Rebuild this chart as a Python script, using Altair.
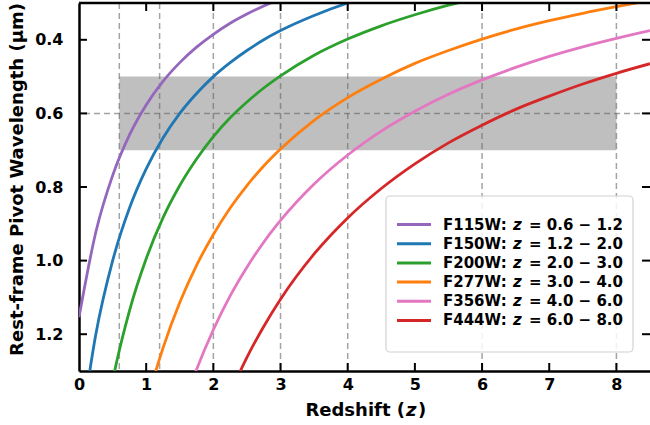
import altair as alt
import pandas as pd

# ---------------- data ----------------
filters = ["F115W", "F150W", "F200W", "F277W", "F356W", "F444W"]
z_ranges = ["= 0.6 − 1.2", "= 1.2 − 2.0", "= 2.0 − 3.0", "= 3.0 − 4.0", "= 4.0 − 6.0", "= 6.0 − 8.0"]
colors = ["#9467bd", "#1f77b4", "#2ca02c", "#ff7f0e", "#e377c2", "#d62728"]

z_f115w = [0, 0.25, 0.5, 0.75, 1.0, 1.25, 1.5, 1.75, 2.0, 2.25, 2.5, 2.75, 3.0]
lam_f115w = [1.154, 0.923, 0.769, 0.659, 0.577, 0.513, 0.462, 0.420, 0.385, 0.355, 0.330, 0.308, 0.289]

z_f150w = [0, 0.25, 0.5, 0.75, 1.0, 1.25, 1.5, 1.75, 2.0, 2.25, 2.5, 2.75, 3.0, 3.5, 4.0, 4.5]
lam_f150w = [1.501, 1.201, 1.001, 0.858, 0.751, 0.667, 0.600, 0.546, 0.500, 0.462, 0.429, 0.400, 0.375, 0.334, 0.300, 0.273]

z_f200w = [0.25, 0.5, 0.75, 1.0, 1.25, 1.5, 1.75, 2.0, 2.25, 2.5, 2.75, 3.0, 3.5, 4.0, 4.5, 5.0, 5.5, 6.0]
lam_f200w = [1.592, 1.327, 1.137, 0.995, 0.884, 0.796, 0.724, 0.663, 0.612, 0.569, 0.531, 0.498, 0.442, 0.398, 0.362, 0.332, 0.306, 0.284]

z_f277w = [0.75, 1.0, 1.25, 1.5, 1.75, 2.0, 2.25, 2.5, 2.75, 3.0, 3.5, 4.0, 4.5, 5.0, 5.5, 6.0, 6.5, 7.0, 7.5, 8.0, 8.5]
lam_f277w = [1.592, 1.393, 1.238, 1.114, 1.013, 0.929, 0.857, 0.796, 0.743, 0.697, 0.619, 0.557, 0.507, 0.464, 0.429, 0.398, 0.371, 0.348, 0.328, 0.310, 0.293]

z_f356w = [1.5, 1.75, 2.0, 2.25, 2.5, 2.75, 3.0, 3.5, 4.0, 4.5, 5.0, 5.5, 6.0, 6.5, 7.0, 7.5, 8.0, 8.5]
lam_f356w = [1.425, 1.296, 1.188, 1.096, 1.018, 0.950, 0.891, 0.792, 0.713, 0.648, 0.594, 0.548, 0.509, 0.475, 0.445, 0.419, 0.396, 0.375]

z_f444w = [2.25, 2.5, 2.75, 3.0, 3.5, 4.0, 4.5, 5.0, 5.5, 6.0, 6.5, 7.0, 7.5, 8.0, 8.5]
lam_f444w = [1.360, 1.263, 1.179, 1.105, 0.982, 0.884, 0.804, 0.737, 0.680, 0.632, 0.589, 0.553, 0.520, 0.491, 0.465]

z_marks = [0.6, 1.2, 2.0, 3.0, 4.0, 6.0, 8.0]     # vertical dashed lines
lam_mark = [0.6]                                  # horizontal dashed line
band_z = [0.6, 8.0]                               # shaded band extent
band_lam = [0.5, 0.7]

x_ticks = [0, 1, 2, 3, 4, 5, 6, 7, 8]
y_ticks = [0.4, 0.6, 0.8, 1.0, 1.2]

x_title_parts = ["Redshift (", "z", ")"]

# ---------------- tables ----------------
series = [
    (z_f115w, lam_f115w), (z_f150w, lam_f150w), (z_f200w, lam_f200w),
    (z_f277w, lam_f277w), (z_f356w, lam_f356w), (z_f444w, lam_f444w),
]
rows = []
for f, (zs, ls) in zip(filters, series):
    for z, l in zip(zs, ls):
        rows.append({"filter": f, "z": z, "lam": l})
curves_df = pd.DataFrame(rows)
legend_df = pd.DataFrame({"filter": filters,
                          "name": [f + ":" for f in filters],
                          "zsym": ["z"] * len(filters),
                          "rng": z_ranges})

W, H = 571, 368
FONT = "DejaVu Sans"

xscale = alt.Scale(domain=[0, 8.5], nice=False, zero=False)
yscale = alt.Scale(domain=[0.3, 1.3], reverse=True, nice=False, zero=False)
cscale = alt.Scale(domain=filters, range=colors)

x_axis = alt.Axis(
    values=x_ticks, format="d", ticks=False, grid=False,
    domain=True, domainColor="black", domainWidth=2.5,
    labelFont=FONT, labelFontSize=16, labelFontWeight="bold", labelColor="black",
    labelPadding=5, labelFlush=False, title=None,
)
y_axis = alt.Axis(
    values=y_ticks, format=".1f", ticks=False, grid=False,
    domain=True, domainColor="black", domainWidth=2.5,
    labelFont=FONT, labelFontSize=16, labelFontWeight="bold", labelColor="black",
    labelPadding=16, labelFlush=False,
    title="Rest-frame Pivot Wavelength (µm)", titleFont=FONT, titleFontSize=18,
    titleFontWeight="bold", titleColor="black", titlePadding=8, titleY=176,
)

def X(field):
    return alt.X(field, type="quantitative", scale=xscale, axis=x_axis)

def Y(field):
    return alt.Y(field, type="quantitative", scale=yscale, axis=y_axis)

band = alt.Chart(pd.DataFrame({"z0": [band_z[0]], "z1": [band_z[1]],
                               "l0": [band_lam[0]], "l1": [band_lam[1]]})).mark_rect(
    color="#bfbfbf"
).encode(x=X("z0"), x2="z1", y=Y("l0"), y2="l1")

dash_style = dict(color="#666666", opacity=0.6, strokeWidth=1.5, strokeDash=[6, 4])
vlines = alt.Chart(pd.DataFrame({"zm": z_marks})).mark_rule(**dash_style).encode(x=X("zm"))
hline = alt.Chart(pd.DataFrame({"lm": lam_mark})).mark_rule(**dash_style).encode(y=Y("lm"))

curves = alt.Chart(curves_df).mark_line(
    strokeWidth=2.8, clip=True, interpolate="monotone"
).encode(
    x=X("z"), y=Y("lam"),
    color=alt.Color("filter:N", scale=cscale, legend=None),
    detail="filter:N",
)

tick_style = dict(color="black", strokeWidth=2)
xt = pd.DataFrame({"t": x_ticks[1:]})
yt = pd.DataFrame({"t": y_ticks})
top_ticks = alt.Chart(xt).mark_rule(**tick_style).encode(x=X("t"), y=alt.value(0), y2=alt.value(8))
bot_ticks = alt.Chart(xt).mark_rule(**tick_style).encode(x=X("t"), y=alt.value(H), y2=alt.value(H - 8))
left_ticks = alt.Chart(yt).mark_rule(**tick_style).encode(y=Y("t"), x=alt.value(0), x2=alt.value(8))
right_ticks = alt.Chart(yt).mark_rule(**tick_style).encode(y=Y("t"), x=alt.value(W - 8), x2=alt.value(W))
top_spine = alt.Chart(pd.DataFrame({"a": [0]})).mark_rule(color="black", strokeWidth=2.5).encode(
    y=alt.value(0), x=alt.value(0), x2=alt.value(W))

main = alt.layer(band, vlines, hline, curves, top_ticks, bot_ticks,
                 left_ticks, right_ticks, top_spine)

# ---------------- x-axis title with italic z ----------------
ttl = dict(font=FONT, fontSize=18, fontWeight="bold", color="black", baseline="alphabetic")
one = pd.DataFrame({"a": [0]})
xt1 = alt.Chart(one).mark_text(align="right", text=x_title_parts[0], **ttl).encode(
    x=alt.value(326), y=alt.value(H + 45))
xt2 = alt.Chart(one).mark_text(align="left", fontStyle="italic", text=x_title_parts[1], **ttl).encode(
    x=alt.value(327), y=alt.value(H + 45))
xt3 = alt.Chart(one).mark_text(align="left", text=x_title_parts[2], **ttl).encode(
    x=alt.value(339), y=alt.value(H + 45))

# ---------------- custom legend (pixel layout) ----------------
ly = alt.Y("filter:N", sort=filters, scale=alt.Scale(domain=filters, range=[212, 327]), axis=None)
box = alt.Chart(one).mark_rect(
    fill="white", stroke="#cccccc", strokeWidth=1.2, cornerRadius=4, opacity=0.85
).encode(x=alt.value(307), x2=alt.value(554), y=alt.value(193), y2=alt.value(349))
leg_lines = alt.Chart(legend_df).mark_rule(strokeWidth=3).encode(
    x=alt.value(318), x2=alt.value(352), y=ly,
    color=alt.Color("filter:N", scale=cscale, legend=None))
txt = dict(font=FONT, fontSize=15, fontWeight="bold", color="black",
           align="left", baseline="middle")
leg_name = alt.Chart(legend_df).mark_text(**txt).encode(x=alt.value(364), y=ly, text="name:N")
leg_z = alt.Chart(legend_df).mark_text(fontStyle="italic", **txt).encode(
    x=alt.value(434), y=ly, text="zsym:N")
leg_rng = alt.Chart(legend_df).mark_text(**txt).encode(x=alt.value(450), y=ly, text="rng:N")
legend = alt.layer(box, leg_lines, leg_name, leg_z, leg_rng, xt1, xt2, xt3)

chart = alt.layer(main, legend).resolve_scale(y="independent").properties(
    width=W, height=H,
    autosize=alt.AutoSizeParams(type="none"),
    padding={"left": 79, "top": 3, "right": 0, "bottom": 54},
).configure_view(stroke=None).configure(font=FONT)

chart.save("out.html", embed_options={"renderer": "svg", "actions": False})
